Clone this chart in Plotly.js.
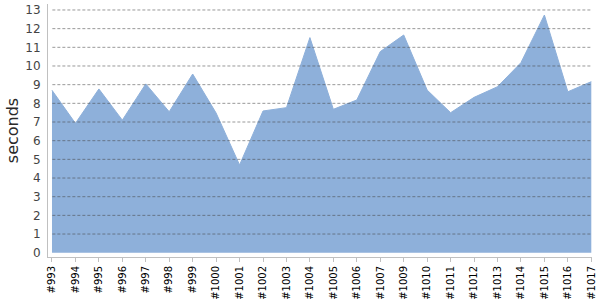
<!DOCTYPE html>
<html>
<head>
<meta charset="utf-8">
<script src="https://cdn.plot.ly/plotly-3.0.1.min.js"></script>
<style>html,body{margin:0;padding:0;background:#fff}#chart{width:600px;height:300px}</style>
</head>
<body>
<div id="chart"></div>
<script>
var builds = ["#993","#994","#995","#996","#997","#998","#999","#1000","#1001","#1002","#1003","#1004","#1005","#1006","#1007","#1009","#1010","#1011","#1012","#1013","#1014","#1015","#1016","#1017"];
var seconds = [8.7,6.93,8.77,7.1,9.04,7.55,9.57,7.48,4.7,7.59,7.77,11.52,7.68,8.18,10.77,11.66,8.71,7.5,8.32,8.89,10.18,12.73,8.62,9.16];
var yTicks = [0,1,2,3,4,5,6,7,8,9,10,11,12,13];
var gridVals = [1,2,3,4,5,6,7,8,9,10,11,12,13];

var idx = builds.map(function(_, i){ return i; });
var shapes = gridVals.map(function(v){
  return {type:'line', xref:'paper', yref:'y', x0:0.008, x1:1, y0:v, y1:v, layer:'above',
          line:{color:'rgba(70,70,70,0.55)', width:1, dash:'3px,2px'}};
});

var trace = {
  x: idx, y: seconds, type:'scatter', mode:'lines', fill:'tozeroy',
  fillcolor:'rgb(142,176,218)', line:{color:'rgb(142,176,218)', width:1},
  hoverinfo:'skip'
};

var layout = {
  width:600, height:300,
  margin:{l:48, r:8, t:4, b:43},
  paper_bgcolor:'#fff', plot_bgcolor:'#fff',
  showlegend:false,
  font:{family:'DejaVu Sans, Verdana, sans-serif'},
  xaxis:{
    range:[-0.17, 23.03], tickmode:'array', tickvals:idx, ticktext:builds,
    tickangle:-90, tickfont:{size:10, color:'#000'},
    showgrid:false, zeroline:false, showline:true, linecolor:'#c0c0c0', linewidth:1,
    ticks:'outside', ticklen:4, tickcolor:'#c0c0c0'
  },
  yaxis:{
    range:[-0.23, 13.32], tickmode:'array', tickvals:yTicks,
    tickfont:{size:12, color:'#444'},
    showgrid:false, zeroline:false, showline:true, linecolor:'#c0c0c0', linewidth:1,
    ticks:'', ticklabelstandoff:4,
    title:{text:'seconds', font:{size:16, color:'#2a2a2a', family:'DejaVu Sans, sans-serif'}, standoff:2}
  },
  shapes: shapes
};

Plotly.newPlot('chart', [trace], layout, {displayModeBar:false, staticPlot:true});
</script>
</body>
</html>
